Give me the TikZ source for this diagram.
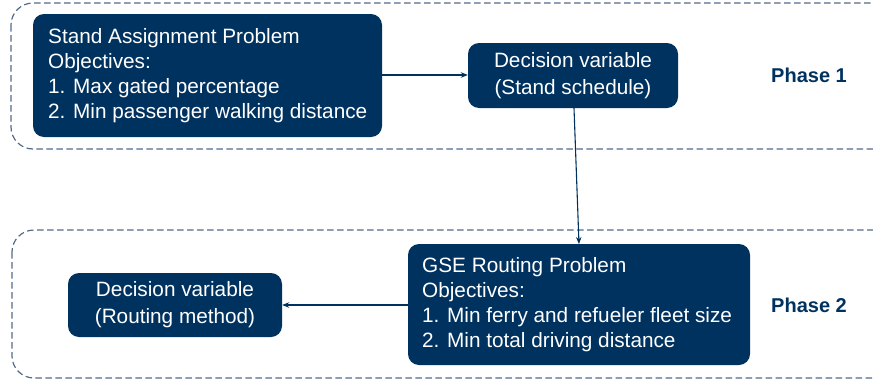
\documentclass[tikz,border=0pt]{standalone}
\usepackage{fontspec}
\setmainfont{Liberation Sans}
\usetikzlibrary{arrows.meta}
\definecolor{navy}{RGB}{0,50,96}
\definecolor{dashc}{RGB}{84,106,138}
\tikzset{
  phasebox/.style={draw=dashc, line width=1.2pt, dash pattern=on 6.5pt off 3.5pt, rounded corners=22pt},
  boxtext/.style={text=white, font=\fontsize{20.75}{25}\selectfont, inner sep=0pt},
  conn/.style={draw=navy, line width=1.1pt, -{Stealth[length=7pt,width=5.5pt]}},
  phaselabel/.style={text=navy, font=\bfseries\fontsize{20}{24}\selectfont}
}
\begin{document}
\begin{tikzpicture}[x=1pt,y=-1pt]
\useasboundingbox (0,0) rectangle (873,383);
\fill[white] (0,0) rectangle (873,383);
\clip (0,0) rectangle (873,383);
\draw[phasebox] (11,3) rectangle (895,149);
\draw[phasebox] (12,230) rectangle (895,378);
% boxes
\fill[navy, rounded corners=11pt] (33,14) rectangle (382,137);
\node[minimum width=349pt, minimum height=123pt, inner sep=0pt] (sap) at (207.5,75.5) {};
\node[boxtext, anchor=north west, align=left] (saptext) at (48,28.5)
  {Stand Assignment Problem\\Objectives:\\1. Max gated percentage\\2. Min passenger walking distance};
\fill[navy, rounded corners=11pt] (468,43) rectangle (678,108);
\node[minimum width=210pt, minimum height=65pt, inner sep=0pt] (dv1) at (573,75.5) {};
\node[boxtext, align=center, font=\fontsize{20.75}{27}\selectfont] (dv1text) at (573,76)
  {Decision variable\\(Stand schedule)};
\fill[navy, rounded corners=11pt] (408,244) rectangle (750,365);
\node[minimum width=342pt, minimum height=121pt, inner sep=0pt] (gse) at (579,304.5) {};
\node[boxtext, anchor=north west, align=left] (gsetext) at (422,257.5)
  {GSE Routing Problem\\Objectives:\\1. Min ferry and refueler fleet size\\2. Min total driving distance};
\fill[navy, rounded corners=11pt] (68,273) rectangle (282,337);
\node[minimum width=214pt, minimum height=64pt, inner sep=0pt] (dv2) at (175,305) {};
\node[boxtext, align=center, font=\fontsize{20.75}{27}\selectfont] (dv2text) at (175,305)
  {Decision variable\\(Routing method)};
% connectors
\draw[conn] (sap.east |- 0,75) -- (dv1.west |- 0,75);
\coordinate (a) at (574,108);
\coordinate (b) at (579,244);
\draw[conn] (a) -- (b);
\draw[conn] (gse.west |- 0,305) -- (dv2.east |- 0,305);
% phase labels
\node[phaselabel] (p1) at (809,75) {Phase 1};
\node[phaselabel] (p2) at (809,305) {Phase 2};
\end{tikzpicture}
\end{document}
